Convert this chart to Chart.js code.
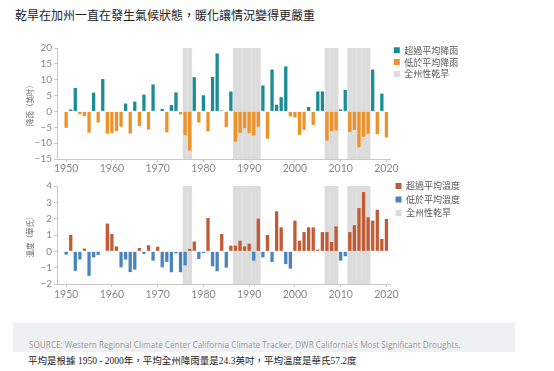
<!DOCTYPE html>
<html><head><meta charset="utf-8">
<script src="https://cdn.jsdelivr.net/npm/chart.js@4.4.1/dist/chart.umd.min.js"></script>
<style>
html,body{margin:0;padding:0;background:#fff;width:554px;height:371px;overflow:hidden;}
#title{position:absolute;left:15px;top:9px;font:12px/12px "Noto Sans CJK TC";color:#222;white-space:nowrap;}
canvas{position:absolute;left:0;}
#c1{top:43px;} #c2{top:177px;}
#srcbox{position:absolute;left:13px;top:323px;width:502px;height:29px;background:#eef0f2;}
#src{position:absolute;left:29px;top:341px;font:8.2px/8px "Open Sans";color:#9a9a9a;white-space:nowrap;}
#note{position:absolute;left:28px;top:356px;font:9.5px/10px "Liberation Serif","Noto Sans CJK TC";color:#222;white-space:nowrap;}
</style></head><body>
<div id="title">乾旱在加州一直在發生氣候狀態，暖化讓情況變得更嚴重</div>
<canvas id="c1" width="554" height="134"></canvas>
<canvas id="c2" width="554" height="125"></canvas>
<div id="srcbox"></div>
<div id="src">SOURCE: Western Regional Climate Center California Climate Tracker, DWR California's Most Significant Droughts.</div>
<div id="note">平均是根據 1950 - 2000年，平均全州降雨量是24.3英吋，平均溫度是華氏57.2度</div>
<script>
const years = [];
for (let y = 1950; y <= 2020; y++) years.push(y);

// Precipitation departure from average (inches), 1950-2020
const precip = [
  -5.2, 0.6, 7.4, -0.9, -1.5, -6.7, 5.9, -3.5, 10.2, -7.0,
  -6.8, -6.2, -4.8, 2.5, -7.0, 3.1, -4.6, 5.3, -5.7, 8.5,
  -0.2, 0.8, -6.6, 2.0, 6.0, -0.9, -7.5, -12.3, 10.8, -3.5,
  5.1, -6.3, 10.9, 18.3, 0.3, -4.9, 6.3, -9.5, -6.7, -5.3,
  -6.8, -7.6, -4.8, 8.2, -8.6, 13.2, 2.1, 4.5, 14.2, -1.6,
  -1.9, -7.4, -5.8, 1.4, -4.3, 6.3, 6.3, -9.2, -6.2, -6.0,
  0.6, 6.8, -6.5, -5.8, -11.3, -8.0, -7.0, 13.2, -7.2, 5.6,
  -8.2
];

// Temperature departure from average (°F), 1950-2020
const temp = [
  -0.2, 1.0, -1.2, -0.5, 0.17, -1.5, -0.37, -0.22, 0.0, 1.7,
  1.06, 0.3, -0.98, -0.5, -1.27, -1.12, 0.2, -0.16, 0.37, -0.57,
  0.28, -0.98, -0.65, -1.28, -0.12, -1.28, -0.86, 0.15, 0.6, -0.47,
  -0.1, 2.04, -0.92, -1.22, 1.06, -1.0, 0.35, 0.35, 0.65, 0.3,
  0.47, -0.57, 2.0, -0.37, 1.0, -0.65, 2.45, 1.47, -0.78, -1.06,
  1.88, 0.65, 1.18, 1.47, 1.47, 0.1, 1.18, 1.18, 0.57, 1.53,
  -0.57, -0.3, 1.18, 1.6, 2.65, 3.63, 2.08, 1.88, 2.55, 0.76,
  1.98
];

const droughtYears = [1976, 1977, 1987, 1988, 1989, 1990, 1991, 1992, 2007, 2008, 2009, 2012, 2013, 2014, 2015, 2016];

const precipTicks = {min: -15, max: 20, step: 5};
const tempTicks = {min: -2, max: 4, step: 1};

const precipLabels = ['超過平均降雨', '低於平均降雨', '全州性乾旱'];
const tempLabels = ['超過平均溫度', '低於平均溫度', '全州性乾旱'];
const precipTitle = '降雨（英吋）';
const tempTitle = '溫度（華氏）';

function pts(vals, pred) {
  const out = [];
  vals.forEach((v, i) => { if (pred(v)) out.push({x: years[i], y: v}); });
  return out;
}

function makeChart(id, vals, rng, labels, title, posColor, negColor, padTop, legPad, tickPad) {
  const drought = droughtYears.map(y => ({x: y, y: [rng.min, rng.max]}));
  // legend width = pad + box + font/2 + text + 10; keep chart area right edge at x=391
  const legendW = legPad + 6 + 4.5 + 54 + 10;
  return new Chart(document.getElementById(id), {
    type: 'bar',
    data: {
      datasets: [
        {label: labels[0], data: pts(vals, v => v >= 0), backgroundColor: posColor, borderWidth: 0,
         barPercentage: 0.72, categoryPercentage: 1, order: 1},
        {label: labels[1], data: pts(vals, v => v < 0), backgroundColor: negColor, borderWidth: 0,
         barPercentage: 0.72, categoryPercentage: 1, order: 1},
        {label: labels[2], data: drought, backgroundColor: '#dcdcdc', borderWidth: 0,
         barPercentage: 1.04, categoryPercentage: 1, order: 2}
      ]
    },
    options: {
      responsive: false,
      animation: false,
      devicePixelRatio: 1,
      grouped: false,
      layout: {padding: {left: 22, right: 554 - 391 - legendW, top: 0, bottom: 0}},
      plugins: {
        tooltip: {enabled: false},
        legend: {
          position: 'right', align: 'start', fullSize: true,
          labels: {boxWidth: 6, boxHeight: 6, padding: legPad, color: '#555',
                   font: {family: 'Noto Sans CJK TC', size: 9}}
        }
      },
      scales: {
        x: {
          type: 'linear', min: 1948, max: 2021, offset: false,
          ticks: {stepSize: 10, includeBounds: false, autoSkip: false, maxRotation: 0, padding: tickPad,
                  color: '#888', font: {family: 'Lato', size: 10.5}, callback: v => String(v)},
          grid: {display: true, offset: false, drawOnChartArea: false, drawTicks: true, tickLength: 3, color: '#c8c8c8'},
          border: {display: true, color: '#c8c8c8'},
          afterFit: s => { s.height = 18; }
        },
        y: {
          min: rng.min, max: rng.max,
          ticks: {stepSize: rng.step, padding: 2, color: '#888', font: {family: 'Lato', size: 10},
                  callback: v => v < 0 ? '\u2212' + Math.abs(v) : String(v)},
          grid: {drawOnChartArea: false, drawTicks: true, tickLength: 3, color: '#c8c8c8'},
          border: {display: true, color: '#c8c8c8'},
          title: {display: true, text: title, color: '#666', font: {family: 'Noto Sans CJK TC', size: 7.5},
                  padding: {top: 4, bottom: 4}},
          afterFit: s => { s.width = 35; s.paddingTop = padTop; }
        }
      }
    }
  });
}

makeChart('c1', precip, precipTicks, precipLabels, precipTitle, '#1b8c93', '#ef9126', 5, 2.8, 0);
makeChart('c2', temp, tempTicks, tempLabels, tempTitle, '#c45a33', '#4a84c0', 9, 4.5, 1);
</script>
</body></html>
